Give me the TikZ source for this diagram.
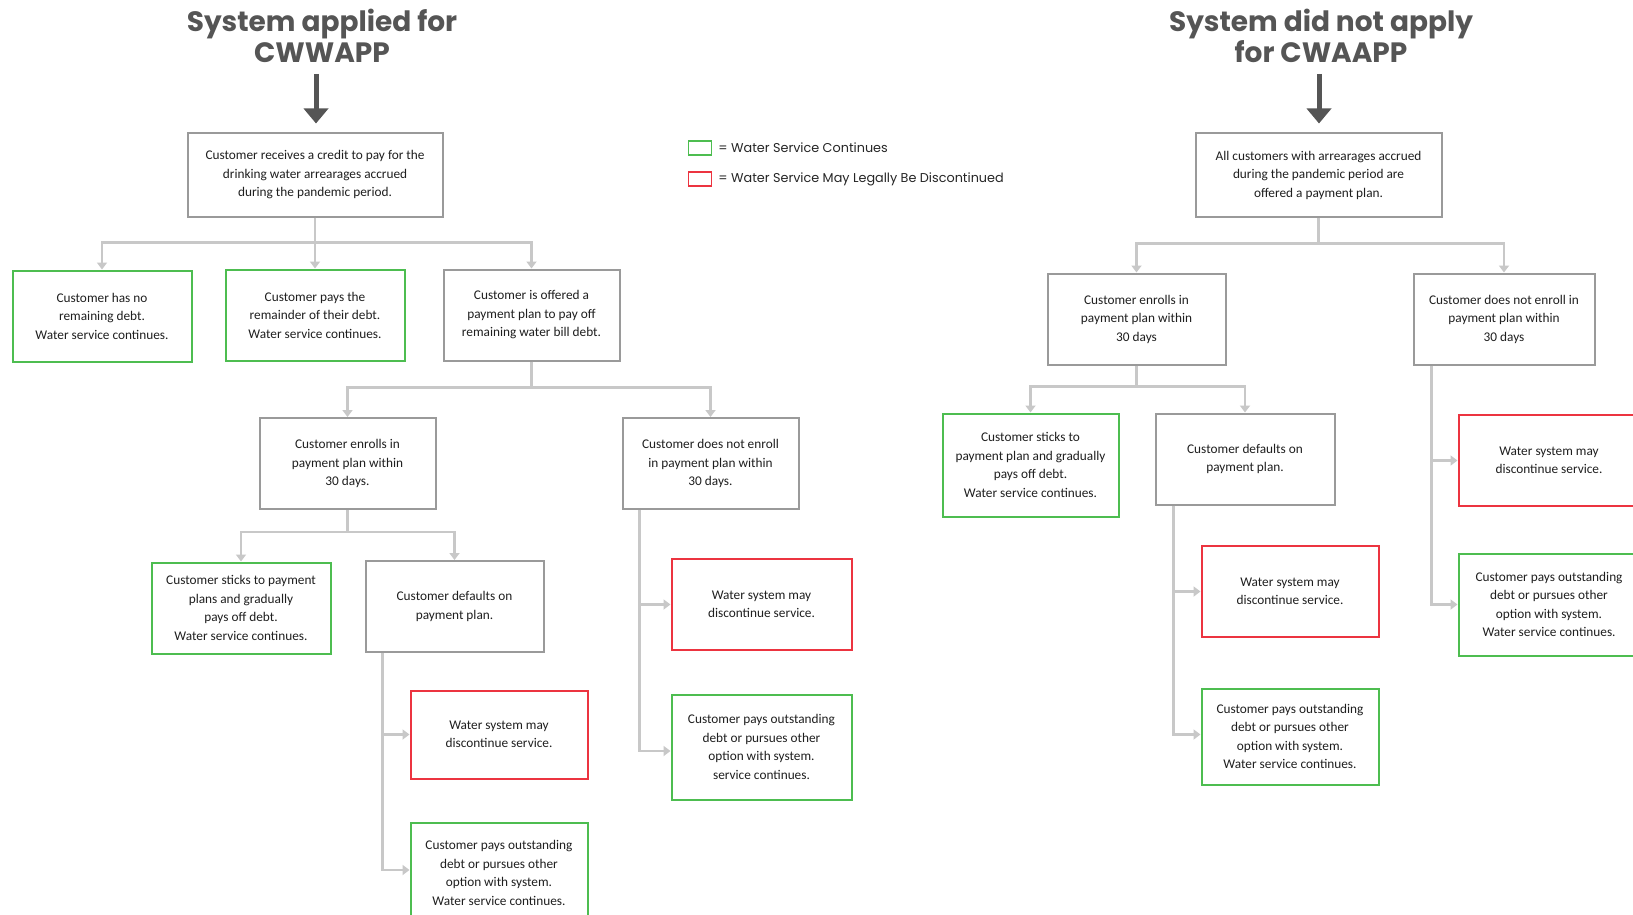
\documentclass[tikz,border=0pt]{standalone}
\usepackage{fontspec}
\setmainfont{Carlito}
\newfontfamily\titlefont{Poppins}
\usetikzlibrary{arrows.meta,positioning}

\definecolor{boxgray}{HTML}{9A9A9A}
\definecolor{linegray}{HTML}{C8C8C8}
\definecolor{okgreen}{HTML}{4DBD50}
\definecolor{cutred}{HTML}{EC3440}
\definecolor{titlegray}{HTML}{555555}

\tikzset{
  box/.style={line width=2pt, align=center, inner sep=0pt,
    minimum width=178pt, minimum height=91pt, text=black!88,
    font=\fontsize{13.3}{18.5}\selectfont},
  gbox/.style={box, draw=boxgray},
  okbox/.style={box, draw=okgreen},
  cutbox/.style={box, draw=cutred},
  conn/.style={draw=linegray, line width=2.5pt, -{Triangle[width=10pt,length=7pt]}},
  bigarrow/.style={draw=titlegray, fill=titlegray, line width=5pt,
    -{Triangle[width=24pt,length=15pt]}, shorten >=9pt},
  headline/.style={align=center, text=titlegray, inner sep=0pt,
    font=\titlefont\bfseries\fontsize{28}{31}\selectfont},
  legbox/.style={line width=1.5pt, minimum width=23pt, minimum height=14pt, inner sep=0pt},
  legtext/.style={inner sep=0pt, font=\titlefont\fontsize{12.8}{15}\selectfont, text=black!85}
}

\begin{document}
\begin{tikzpicture}[x=1pt, y=-1pt]
    \useasboundingbox (0,0) rectangle (1633,915);
    \fill[white] (0,0) rectangle (1633,915);

    % titles
    \node[headline] (T1) at (322,36) {System applied for\\CWWAPP};
    \node[headline] (T2) at (1321,36) {System did not apply\\for CWAAPP};

    % legend
    \node[legbox, draw=okgreen] (kG) at (700,148) {};
    \node[legbox, draw=cutred] (kR) at (700,179) {};
    \node[legtext, right=6pt of kG] (kGt) {= Water Service Continues};
    \node[legtext, right=6pt of kR] (kRt) {= Water Service May Legally Be Discontinued};

    % left tree
    \node[gbox, minimum width=255pt, minimum height=83pt] (L0) at (315,175)
        {Customer receives a credit to pay for the\\drinking water arrearages accrued\\during the pandemic period.};
    \node[okbox, minimum width=179pt] (L1a) at (102,316)
        {Customer has no\\remaining debt.\\Water service continues.};
    \node[okbox, minimum width=179pt] (L1b) at (315,315)
        {Customer pays the\\remainder of their debt.\\Water service continues.};
    \node[gbox, minimum width=176pt] (L1c) at (531.5,315)
        {Customer is offered a\\payment plan to pay off\\remaining water bill debt.};
    \node[gbox, minimum width=176pt] (L2a) at (347.5,463.5)
        {Customer enrolls in\\payment plan within\\30 days.};
    \node[gbox, minimum width=176pt] (L2b) at (710.5,463.5)
        {Customer does not enroll\\in payment plan within\\30 days.};
    \node[okbox, minimum width=179pt] (L3a) at (241,608)
        {Customer sticks to payment\\plans and gradually\\pays off debt.\\Water service continues.};
    \node[gbox] (L3b) at (454.5,606.5)
        {Customer defaults on\\payment plan.};
    \node[cutbox, minimum width=177pt, minimum height=88pt] (L4a) at (499,734.5)
        {Water system may\\discontinue service.};
    \node[okbox, minimum width=177pt, minimum height=100pt] (L4b) at (499,873)
        {Customer pays outstanding\\debt or pursues other\\option with system.\\Water service continues.};
    \node[cutbox, minimum width=180pt] (L5a) at (761.5,604.5)
        {Water system may\\discontinue service.};
    \node[okbox, minimum width=180pt, minimum height=105pt] (L5b) at (761.5,747)
        {Customer pays outstanding\\debt or pursues other\\option with system.\\service continues.};

    % right tree
    \node[gbox, minimum width=246pt, minimum height=83pt] (R0) at (1318.5,175)
        {All customers with arrearages accrued\\during the pandemic period are\\offered a payment plan.};
    \node[gbox] (R1a) at (1136.5,319)
        {Customer enrolls in\\payment plan within\\30 days};
    \node[gbox, minimum width=181pt] (R1b) at (1504,319)
        {Customer does not enroll in\\payment plan within\\30 days};
    \node[okbox, minimum width=176pt, minimum height=103pt] (R2a) at (1030.5,465)
        {Customer sticks to\\payment plan and gradually\\pays off debt.\\Water service continues.};
    \node[gbox, minimum width=179pt] (R2b) at (1245,459)
        {Customer defaults on\\payment plan.};
    \node[cutbox, minimum width=177pt] (R3a) at (1290,591.5)
        {Water system may\\discontinue service.};
    \node[okbox, minimum width=177pt, minimum height=96pt] (R3b) at (1290,736.5)
        {Customer pays outstanding\\debt or pursues other\\option with system.\\Water service continues.};
    \node[cutbox, minimum width=181pt] (R4a) at (1549,460.5)
        {Water system may\\discontinue service.};
    \node[okbox, minimum width=181pt, minimum height=102pt] (R4b) at (1549,604.5)
        {Customer pays outstanding\\debt or pursues other\\option with system.\\Water service continues.};

    % big arrows
    \coordinate (A1) at (316,74);
    \coordinate (A2) at (1319,74);
    \draw[bigarrow] (A1) -- (A1 |- L0.north);
    \draw[bigarrow] (A2) -- (A2 |- R0.north);

    % connectors left
    \draw[conn] (L0.south) -- ++(0,25) -| (L1a.north);
    \draw[conn] (L0.south) -- (L1b.north);
    \draw[conn] (L0.south) -- ++(0,25) -| (L1c.north);
    \draw[conn] (L1c.south) -- ++(0,26) -| (L2a.north);
    \draw[conn] (L1c.south) -- ++(0,26) -| (L2b.north);
    \draw[conn] (L2a.south) -- ++(0,22) -| (L3a.north);
    \draw[conn] (L2a.south) -- ++(0,22) -| (L3b.north);
    \draw[conn] ([xshift=18pt]L3b.south west) |- (L4a.west);
    \draw[conn] ([xshift=18pt]L3b.south west) |- ([yshift=3pt]L4b.west);
    \draw[conn] ([xshift=18pt]L2b.south west) |- (L5a.west);
    \draw[conn] ([xshift=18pt]L2b.south west) |- ([yshift=-4pt]L5b.west);

    % connectors right
    \draw[conn] (R0.south) -- ++(0,26) -| (R1a.north);
    \draw[conn] (R0.south) -- ++(0,26) -| (R1b.north);
    \draw[conn] (R1a.south) -- ++(0,21) -| (R2a.north);
    \draw[conn] (R1a.south) -- ++(0,21) -| (R2b.north);
    \draw[conn] ([xshift=19pt]R2b.south west) |- (R3a.west);
    \draw[conn] ([xshift=19pt]R2b.south west) |- ([yshift=2pt]R3b.west);
    \draw[conn] ([xshift=19pt]R1b.south west) |- (R4a.west);
    \draw[conn] ([xshift=19pt]R1b.south west) |- (R4b.west);
\end{tikzpicture}
\end{document}
